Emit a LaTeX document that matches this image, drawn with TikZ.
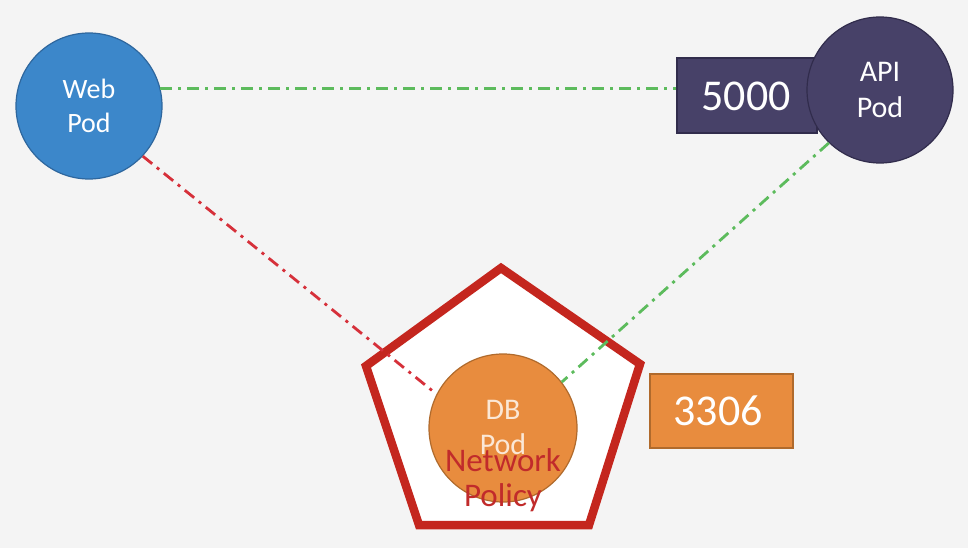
\documentclass[tikz,border=0pt]{standalone}
\usepackage{fontspec}
\setmainfont{Carlito}
\definecolor{bg}{HTML}{F4F4F4}
\definecolor{webfill}{HTML}{3C87CA}
\definecolor{webline}{HTML}{2E679E}
\definecolor{apifill}{HTML}{474168}
\definecolor{apiline}{HTML}{312C4C}
\definecolor{dbfill}{HTML}{E88C3E}
\definecolor{dbline}{HTML}{B06A2C}
\definecolor{polred}{HTML}{C4261E}
\definecolor{poltext}{HTML}{C12B2B}
\definecolor{dbtext}{HTML}{FBE8D6}
\definecolor{lgreen}{HTML}{5CBB5C}
\definecolor{lred}{HTML}{D6303A}
\begin{document}
\begin{tikzpicture}[x=1pt,y=-1pt,
  pod/.style={circle,minimum size=146pt,inner sep=0pt,line width=1.2pt,align=center,text=white,font=\fontsize{28}{34}\selectfont},
  portbox/.style={rectangle,inner sep=0pt,line width=1.2pt,text=white,font=\fontsize{44}{50}\selectfont},
  conn/.style={line width=2.8pt,dash pattern=on 12pt off 6pt on 3pt off 6pt}]
\fill[bg] (0,0) rectangle (968,548);
\useasboundingbox (0,0) rectangle (968,548);
% pentagon
\draw[polred,line width=8.5pt,fill=white,line join=miter] (501,268) -- (640,364) -- (589,525) -- (419,525) -- (366,366) -- cycle;
% port 5000 box and API pod
\node[portbox,draw=apiline,fill=apifill,minimum width=140pt,minimum height=75pt] (p5000) at (747,95.5) {};
\node[font=\fontsize{44}{50}\selectfont,text=white] (t5000) at (746,96) {5000};
\node[pod,draw=apiline,fill=apifill,font=\fontsize{30}{36}\selectfont] (api) at (880,90) {API\\Pod};
% web pod
\node[pod,draw=webline,fill=webfill] (web) at (89,106) {Web\\Pod};
% port 3306
\node[portbox,draw=dbline,fill=dbfill,minimum width=143pt,minimum height=74pt] (p3306) at (721.5,411) {};
\node[font=\fontsize{44}{50}\selectfont,text=white] (t3306) at (718,411) {3306};
% DB pod
\node[pod,draw=dbline,fill=dbfill,minimum size=148pt] (db) at (503,428) {};
% connectors
\draw[conn,lgreen] (web.14) -- (web.14 -| p5000.west);
\draw[conn,lred] (web.-43) -- (db.153);
\draw[conn,lgreen] (api.226) -- (db.38);
\node[text=dbtext,align=center,font=\fontsize{30}{35}\selectfont] (dbt) at (503,427) {DB\\Pod};
\node[text=poltext,align=center,font=\fontsize{33}{35}\selectfont] (pol) at (503,480) {Network\\Policy};
\end{tikzpicture}
\end{document}
